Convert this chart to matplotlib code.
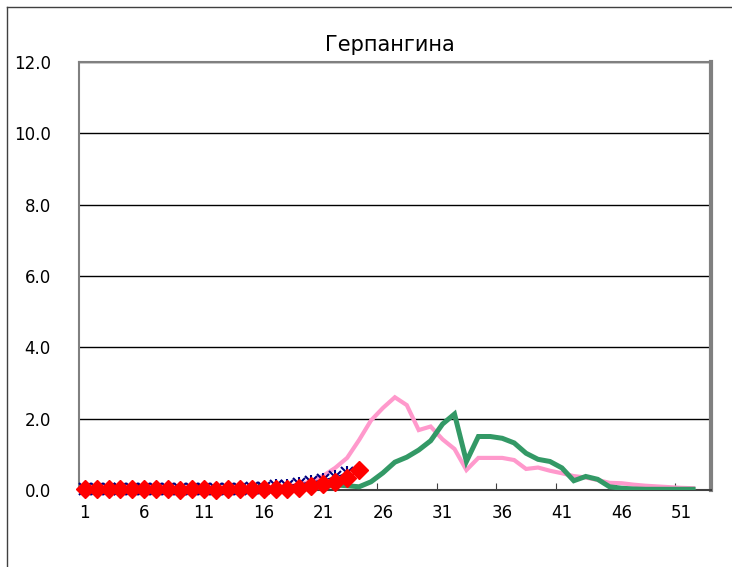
import matplotlib
matplotlib.use("Agg")
import matplotlib.pyplot as plt
from matplotlib.lines import Line2D

weeks = list(range(1, 53))

pink = [0.05, 0.05, 0.05, 0.05, 0.05, 0.05, 0.05, 0.05, 0.05, 0.05,
        0.05, 0.05, 0.05, 0.05, 0.05, 0.06, 0.08, 0.1, 0.15, 0.25,
        0.4, 0.62, 0.9, 1.4, 1.95, 2.3, 2.6, 2.38, 1.68, 1.78,
        1.42, 1.15, 0.56, 0.9, 0.9, 0.9, 0.84, 0.59, 0.63, 0.54,
        0.47, 0.39, 0.35, 0.28, 0.2, 0.19, 0.15, 0.12, 0.1, 0.08,
        0.06, 0.05]

green = [0.03, 0.03, 0.03, 0.03, 0.03, 0.03, 0.03, 0.03, 0.03, 0.03,
         0.03, 0.03, 0.03, 0.03, 0.03, 0.03, 0.03, 0.03, 0.04, 0.05,
         0.08, 0.14, 0.12, 0.09, 0.23, 0.48, 0.78, 0.92, 1.12, 1.38,
         1.85, 2.13, 0.8, 1.5, 1.5, 1.45, 1.32, 1.03, 0.86, 0.8,
         0.62, 0.26, 0.38, 0.3, 0.09, 0.05, 0.03, 0.02, 0.02, 0.02,
         0.02, 0.02]

blue_weeks = list(range(1, 24))
blue = [0.04, 0.04, 0.04, 0.04, 0.04, 0.04, 0.04, 0.04, 0.04, 0.04,
        0.04, 0.04, 0.04, 0.04, 0.05, 0.07, 0.1, 0.12, 0.17, 0.22,
        0.28, 0.36, 0.47]

red_weeks = list(range(1, 25))
red = [0.04, 0.04, 0.04, 0.04, 0.04, 0.04, 0.04, 0.04, 0.0, 0.03,
       0.04, 0.0, 0.03, 0.04, 0.04, 0.04, 0.04, 0.04, 0.05, 0.1,
       0.17, 0.22, 0.33, 0.55]

title = "Герпангина"
yticks = [0, 2, 4, 6, 8, 10, 12]
xlabels = [1, 6, 11, 16, 21, 26, 31, 36, 41, 46, 51]

fig = plt.figure(figsize=(7.32, 5.67), dpi=100)
ax = fig.add_axes([78.7 / 732, 77 / 567, (711 - 78.7) / 732, (490 - 62) / 567])

ax.plot(weeks, pink, color="#FF99CC", lw=3, solid_joinstyle="miter", zorder=3)
ax.plot(weeks, green, color="#339966", lw=3.6, solid_joinstyle="miter", zorder=4)
# star marker: an x plus a vertical bar
ax.plot(blue_weeks, blue, color="#000080", lw=1, marker="x",
        markersize=8, markeredgewidth=1.5, zorder=5, clip_on=False)
ax.plot(blue_weeks, blue, color="#000080", lw=0, marker="|",
        markersize=10, markeredgewidth=1.5, zorder=5, clip_on=False)
ax.plot(red_weeks, red, color="#FF0000", lw=1.5, marker="D",
        markersize=9, zorder=6, clip_on=False)

ax.set_xlim(0.5, 53.5)
ax.set_ylim(0, 12)
ax.set_yticks(yticks)
ax.set_yticklabels([f"{v:.1f}" for v in yticks])
ax.yaxis.grid(True, color="black", lw=1)
ax.set_axisbelow(True)
ax.tick_params(axis="y", length=0, pad=20, labelsize=12)

# tick marks between categories, labels on categories
ax.set_xticks([x + 0.5 for x in range(0, 54, 5)])
ax.set_xticklabels([])
ax.set_xticks(xlabels, minor=True)
ax.set_xticklabels([str(v) for v in xlabels], minor=True)
ax.tick_params(axis="x", which="major", direction="in", length=5, color="#404040")
ax.tick_params(axis="x", which="minor", length=0, pad=10, labelsize=12)

for side in ["left", "top"]:
    ax.spines[side].set_color("#808080")
    ax.spines[side].set_linewidth(1.5)
ax.spines["right"].set_color("#808080")
ax.spines["right"].set_linewidth(3)
ax.spines["bottom"].set_color("#404040")
ax.spines["bottom"].set_linewidth(1.5)

fig.text(390 / 732, 1 - 45 / 567, title, ha="center", va="center", fontsize=15)

# outer chart border
fig.add_artist(Line2D([7 / 732, 7 / 732], [0, 1 - 7 / 567], color="#404040", lw=1))
fig.add_artist(Line2D([7 / 732, 1], [1 - 7 / 567, 1 - 7 / 567], color="#404040", lw=1))

fig.savefig("out.png", dpi=100)
